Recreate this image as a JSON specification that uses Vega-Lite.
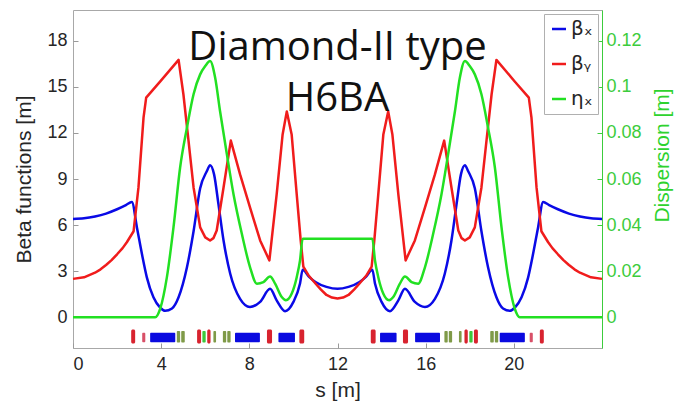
{
  "$schema": "https://vega.github.io/schema/vega-lite/v6.json",
  "width": 529,
  "height": 338,
  "autosize": {"type": "none"},
  "padding": {"left": 73, "top": 10, "right": 77, "bottom": 63},
  "background": "white",
  "config": {
    "font": "Liberation Sans",
    "view": {"stroke": "#a8a8a8", "strokeWidth": 1},
    "axis": {
      "grid": false,
      "domain": false,
      "labelFont": "Liberation Sans",
      "titleFont": "Liberation Sans",
      "labelFontSize": 18,
      "titleFontSize": 21,
      "titleFontWeight": "normal",
      "labelColor": "#262626",
      "titleColor": "#262626",
      "tickColor": "#9a9a9a",
      "tickSize": -5
    },
    "axisX": {"labelPadding": 12, "titlePadding": 6},
    "axisLeft": {"labelPadding": 11, "titlePadding": 12}
  },
  "datasets": {
    "curves": [
      {"s": 0, "k": "βₓ", "v": 6.4}, {"s": 0.5, "k": "βₓ", "v": 6.44}, {"s": 1, "k": "βₓ", "v": 6.56}, {"s": 1.5, "k": "βₓ", "v": 6.75}, {"s": 2, "k": "βₓ", "v": 7.03}, {"s": 2.4, "k": "βₓ", "v": 7.3}, {"s": 2.67, "k": "βₓ", "v": 7.5}, {"s": 2.9, "k": "βₓ", "v": 5.85}, {"s": 3.13, "k": "βₓ", "v": 4.1}, {"s": 3.35, "k": "βₓ", "v": 2.6}, {"s": 3.65, "k": "βₓ", "v": 1.3}, {"s": 3.96, "k": "βₓ", "v": 0.62}, {"s": 4.18, "k": "βₓ", "v": 0.42}, {"s": 4.49, "k": "βₓ", "v": 0.57}, {"s": 4.79, "k": "βₓ", "v": 1.3}, {"s": 5.17, "k": "βₓ", "v": 3.25}, {"s": 5.47, "k": "βₓ", "v": 5.6}, {"s": 5.77, "k": "βₓ", "v": 8.4}, {"s": 6.07, "k": "βₓ", "v": 9.5}, {"s": 6.22, "k": "βₓ", "v": 9.9}, {"s": 6.4, "k": "βₓ", "v": 9.3}, {"s": 6.6, "k": "βₓ", "v": 7.35}, {"s": 6.83, "k": "βₓ", "v": 5.0}, {"s": 7.13, "k": "βₓ", "v": 2.85}, {"s": 7.58, "k": "βₓ", "v": 1.2}, {"s": 8.03, "k": "βₓ", "v": 0.67}, {"s": 8.49, "k": "βₓ", "v": 1.0}, {"s": 8.94, "k": "βₓ", "v": 1.85}, {"s": 9.24, "k": "βₓ", "v": 1.1}, {"s": 9.62, "k": "βₓ", "v": 0.4}, {"s": 10.0, "k": "βₓ", "v": 1.0}, {"s": 10.3, "k": "βₓ", "v": 2.2}, {"s": 10.42, "k": "βₓ", "v": 3.1}, {"s": 10.7, "k": "βₓ", "v": 2.65}, {"s": 11.0, "k": "βₓ", "v": 2.3}, {"s": 11.5, "k": "βₓ", "v": 1.98}, {"s": 12, "k": "βₓ", "v": 1.85}, {"s": 12.5, "k": "βₓ", "v": 1.98}, {"s": 13.0, "k": "βₓ", "v": 2.3}, {"s": 13.3, "k": "βₓ", "v": 2.65}, {"s": 13.58, "k": "βₓ", "v": 3.1}, {"s": 13.7, "k": "βₓ", "v": 2.2}, {"s": 14.0, "k": "βₓ", "v": 1.0}, {"s": 14.38, "k": "βₓ", "v": 0.4}, {"s": 14.76, "k": "βₓ", "v": 1.1}, {"s": 15.06, "k": "βₓ", "v": 1.85}, {"s": 15.51, "k": "βₓ", "v": 1.0}, {"s": 15.97, "k": "βₓ", "v": 0.67}, {"s": 16.42, "k": "βₓ", "v": 1.2}, {"s": 16.87, "k": "βₓ", "v": 2.85}, {"s": 17.17, "k": "βₓ", "v": 5.0}, {"s": 17.4, "k": "βₓ", "v": 7.35}, {"s": 17.6, "k": "βₓ", "v": 9.3}, {"s": 17.78, "k": "βₓ", "v": 9.9}, {"s": 17.93, "k": "βₓ", "v": 9.5}, {"s": 18.23, "k": "βₓ", "v": 8.4}, {"s": 18.53, "k": "βₓ", "v": 5.6}, {"s": 18.83, "k": "βₓ", "v": 3.25}, {"s": 19.21, "k": "βₓ", "v": 1.3}, {"s": 19.51, "k": "βₓ", "v": 0.57}, {"s": 19.82, "k": "βₓ", "v": 0.42}, {"s": 20.04, "k": "βₓ", "v": 0.62}, {"s": 20.35, "k": "βₓ", "v": 1.3}, {"s": 20.65, "k": "βₓ", "v": 2.6}, {"s": 20.87, "k": "βₓ", "v": 4.1}, {"s": 21.1, "k": "βₓ", "v": 5.85}, {"s": 21.33, "k": "βₓ", "v": 7.5}, {"s": 21.6, "k": "βₓ", "v": 7.3}, {"s": 22, "k": "βₓ", "v": 7.03}, {"s": 22.5, "k": "βₓ", "v": 6.75}, {"s": 23, "k": "βₓ", "v": 6.56}, {"s": 23.5, "k": "βₓ", "v": 6.44}, {"s": 24, "k": "βₓ", "v": 6.4},
      {"s": 0, "k": "βᵧ", "v": 2.5}, {"s": 0.5, "k": "βᵧ", "v": 2.6}, {"s": 1, "k": "βᵧ", "v": 2.9}, {"s": 1.25, "k": "βᵧ", "v": 3.12}, {"s": 1.5, "k": "βᵧ", "v": 3.4}, {"s": 1.75, "k": "βᵧ", "v": 3.72}, {"s": 2, "k": "βᵧ", "v": 4.1}, {"s": 2.25, "k": "βᵧ", "v": 4.5}, {"s": 2.45, "k": "βᵧ", "v": 4.9}, {"s": 2.75, "k": "βᵧ", "v": 5.6}, {"s": 2.97, "k": "βᵧ", "v": 8.45}, {"s": 3.2, "k": "βᵧ", "v": 13.0}, {"s": 3.32, "k": "βᵧ", "v": 14.3}, {"s": 3.96, "k": "βᵧ", "v": 15.35}, {"s": 4.79, "k": "βᵧ", "v": 16.75}, {"s": 5.01, "k": "βᵧ", "v": 14.5}, {"s": 5.24, "k": "βᵧ", "v": 11.5}, {"s": 5.47, "k": "βᵧ", "v": 8.45}, {"s": 5.77, "k": "βᵧ", "v": 5.85}, {"s": 6.0, "k": "βᵧ", "v": 5.2}, {"s": 6.22, "k": "βᵧ", "v": 5.0}, {"s": 6.37, "k": "βᵧ", "v": 5.15}, {"s": 6.52, "k": "βᵧ", "v": 5.65}, {"s": 6.83, "k": "βᵧ", "v": 8.45}, {"s": 7.16, "k": "βᵧ", "v": 11.5}, {"s": 7.58, "k": "βᵧ", "v": 9.3}, {"s": 8.03, "k": "βᵧ", "v": 7.15}, {"s": 8.49, "k": "βᵧ", "v": 5.0}, {"s": 8.91, "k": "βᵧ", "v": 3.7}, {"s": 9.24, "k": "βᵧ", "v": 8.0}, {"s": 9.51, "k": "βᵧ", "v": 11.9}, {"s": 9.7, "k": "βᵧ", "v": 13.4}, {"s": 9.92, "k": "βᵧ", "v": 11.9}, {"s": 10.15, "k": "βᵧ", "v": 8.0}, {"s": 10.33, "k": "βᵧ", "v": 5.0}, {"s": 10.45, "k": "βᵧ", "v": 3.3}, {"s": 10.7, "k": "βᵧ", "v": 2.7}, {"s": 11.0, "k": "βᵧ", "v": 2.2}, {"s": 11.25, "k": "βᵧ", "v": 1.8}, {"s": 11.5, "k": "βᵧ", "v": 1.45}, {"s": 11.75, "k": "βᵧ", "v": 1.28}, {"s": 12, "k": "βᵧ", "v": 1.22}, {"s": 12.25, "k": "βᵧ", "v": 1.28}, {"s": 12.5, "k": "βᵧ", "v": 1.45}, {"s": 12.75, "k": "βᵧ", "v": 1.8}, {"s": 13.0, "k": "βᵧ", "v": 2.2}, {"s": 13.3, "k": "βᵧ", "v": 2.7}, {"s": 13.55, "k": "βᵧ", "v": 3.3}, {"s": 13.67, "k": "βᵧ", "v": 5.0}, {"s": 13.85, "k": "βᵧ", "v": 8.0}, {"s": 14.08, "k": "βᵧ", "v": 11.9}, {"s": 14.3, "k": "βᵧ", "v": 13.4}, {"s": 14.49, "k": "βᵧ", "v": 11.9}, {"s": 14.76, "k": "βᵧ", "v": 8.0}, {"s": 15.09, "k": "βᵧ", "v": 3.7}, {"s": 15.51, "k": "βᵧ", "v": 5.0}, {"s": 15.97, "k": "βᵧ", "v": 7.15}, {"s": 16.42, "k": "βᵧ", "v": 9.3}, {"s": 16.84, "k": "βᵧ", "v": 11.5}, {"s": 17.17, "k": "βᵧ", "v": 8.45}, {"s": 17.48, "k": "βᵧ", "v": 5.65}, {"s": 17.63, "k": "βᵧ", "v": 5.15}, {"s": 17.78, "k": "βᵧ", "v": 5.0}, {"s": 18.0, "k": "βᵧ", "v": 5.2}, {"s": 18.23, "k": "βᵧ", "v": 5.85}, {"s": 18.53, "k": "βᵧ", "v": 8.45}, {"s": 18.76, "k": "βᵧ", "v": 11.5}, {"s": 18.99, "k": "βᵧ", "v": 14.5}, {"s": 19.21, "k": "βᵧ", "v": 16.75}, {"s": 20.04, "k": "βᵧ", "v": 15.35}, {"s": 20.68, "k": "βᵧ", "v": 14.3}, {"s": 20.8, "k": "βᵧ", "v": 13.0}, {"s": 21.03, "k": "βᵧ", "v": 8.45}, {"s": 21.25, "k": "βᵧ", "v": 5.6}, {"s": 21.55, "k": "βᵧ", "v": 4.9}, {"s": 21.75, "k": "βᵧ", "v": 4.5}, {"s": 22, "k": "βᵧ", "v": 4.1}, {"s": 22.25, "k": "βᵧ", "v": 3.72}, {"s": 22.5, "k": "βᵧ", "v": 3.4}, {"s": 22.75, "k": "βᵧ", "v": 3.12}, {"s": 23, "k": "βᵧ", "v": 2.9}, {"s": 23.5, "k": "βᵧ", "v": 2.6}, {"s": 24, "k": "βᵧ", "v": 2.5},
      {"s": 0, "k": "ηₓ", "v": 0}, {"s": 3.73, "k": "ηₓ", "v": 0}, {"s": 3.96, "k": "ηₓ", "v": 0.0038}, {"s": 4.26, "k": "ηₓ", "v": 0.0174}, {"s": 4.56, "k": "ηₓ", "v": 0.0391}, {"s": 4.86, "k": "ηₓ", "v": 0.065}, {"s": 5.17, "k": "ηₓ", "v": 0.0823}, {"s": 5.47, "k": "ηₓ", "v": 0.0968}, {"s": 5.77, "k": "ηₓ", "v": 0.1054}, {"s": 6.0, "k": "ηₓ", "v": 0.109}, {"s": 6.22, "k": "ηₓ", "v": 0.1112}, {"s": 6.45, "k": "ηₓ", "v": 0.1039}, {"s": 6.67, "k": "ηₓ", "v": 0.0895}, {"s": 6.98, "k": "ηₓ", "v": 0.0708}, {"s": 7.28, "k": "ηₓ", "v": 0.0535}, {"s": 7.66, "k": "ηₓ", "v": 0.0362}, {"s": 8.03, "k": "ηₓ", "v": 0.0218}, {"s": 8.34, "k": "ηₓ", "v": 0.0146}, {"s": 8.64, "k": "ηₓ", "v": 0.0153}, {"s": 8.94, "k": "ηₓ", "v": 0.0177}, {"s": 9.17, "k": "ηₓ", "v": 0.0146}, {"s": 9.47, "k": "ηₓ", "v": 0.0088}, {"s": 9.66, "k": "ηₓ", "v": 0.0074}, {"s": 9.92, "k": "ηₓ", "v": 0.0102}, {"s": 10.15, "k": "ηₓ", "v": 0.0174}, {"s": 10.3, "k": "ηₓ", "v": 0.0247}, {"s": 10.42, "k": "ηₓ", "v": 0.0341}, {"s": 12, "k": "ηₓ", "v": 0.0341}, {"s": 13.58, "k": "ηₓ", "v": 0.0341}, {"s": 13.7, "k": "ηₓ", "v": 0.0247}, {"s": 13.85, "k": "ηₓ", "v": 0.0174}, {"s": 14.08, "k": "ηₓ", "v": 0.0102}, {"s": 14.34, "k": "ηₓ", "v": 0.0074}, {"s": 14.53, "k": "ηₓ", "v": 0.0088}, {"s": 14.83, "k": "ηₓ", "v": 0.0146}, {"s": 15.06, "k": "ηₓ", "v": 0.0177}, {"s": 15.36, "k": "ηₓ", "v": 0.0153}, {"s": 15.66, "k": "ηₓ", "v": 0.0146}, {"s": 15.97, "k": "ηₓ", "v": 0.0218}, {"s": 16.34, "k": "ηₓ", "v": 0.0362}, {"s": 16.72, "k": "ηₓ", "v": 0.0535}, {"s": 17.02, "k": "ηₓ", "v": 0.0708}, {"s": 17.33, "k": "ηₓ", "v": 0.0895}, {"s": 17.55, "k": "ηₓ", "v": 0.1039}, {"s": 17.78, "k": "ηₓ", "v": 0.1112}, {"s": 18.0, "k": "ηₓ", "v": 0.109}, {"s": 18.23, "k": "ηₓ", "v": 0.1054}, {"s": 18.53, "k": "ηₓ", "v": 0.0968}, {"s": 18.83, "k": "ηₓ", "v": 0.0823}, {"s": 19.14, "k": "ηₓ", "v": 0.065}, {"s": 19.44, "k": "ηₓ", "v": 0.0391}, {"s": 19.74, "k": "ηₓ", "v": 0.0174}, {"s": 20.04, "k": "ηₓ", "v": 0.0038}, {"s": 20.27, "k": "ηₓ", "v": 0}, {"s": 24, "k": "ηₓ", "v": 0}
    ],
    "magnets": [
      {"s0": 2.64, "s1": 2.82, "kind": "red"}, {"s0": 3.14, "s1": 3.28, "kind": "small"}, {"s0": 3.5, "s1": 4.64, "kind": "blue"}, {"s0": 4.71, "s1": 4.86, "kind": "olive"}, {"s0": 4.91, "s1": 5.07, "kind": "olive"}, {"s0": 5.63, "s1": 5.81, "kind": "red"}, {"s0": 5.87, "s1": 6.02, "kind": "green"}, {"s0": 6.09, "s1": 6.24, "kind": "red"}, {"s0": 6.37, "s1": 6.49, "kind": "olive"}, {"s0": 6.8, "s1": 6.95, "kind": "olive"}, {"s0": 7.0, "s1": 7.15, "kind": "olive"}, {"s0": 7.35, "s1": 8.48, "kind": "blue"}, {"s0": 8.8, "s1": 9.03, "kind": "red"}, {"s0": 9.32, "s1": 10.07, "kind": "blue"}, {"s0": 10.27, "s1": 10.49, "kind": "red"},
      {"s0": 13.51, "s1": 13.73, "kind": "red"}, {"s0": 13.93, "s1": 14.68, "kind": "blue"}, {"s0": 14.97, "s1": 15.2, "kind": "red"}, {"s0": 15.52, "s1": 16.65, "kind": "blue"}, {"s0": 16.85, "s1": 17.0, "kind": "olive"}, {"s0": 17.05, "s1": 17.2, "kind": "olive"}, {"s0": 17.51, "s1": 17.63, "kind": "olive"}, {"s0": 17.76, "s1": 17.91, "kind": "red"}, {"s0": 17.98, "s1": 18.13, "kind": "green"}, {"s0": 18.19, "s1": 18.37, "kind": "red"}, {"s0": 18.93, "s1": 19.09, "kind": "olive"}, {"s0": 19.14, "s1": 19.29, "kind": "olive"}, {"s0": 19.36, "s1": 20.5, "kind": "blue"}, {"s0": 20.72, "s1": 20.86, "kind": "small"}, {"s0": 21.18, "s1": 21.36, "kind": "red"}
    ]
  },
  "layer": [
    {
      "layer": [
        {
          "data": {"name": "magnets"},
          "transform": [{"filter": "datum.kind === 'red'"}],
          "mark": {"type": "rect", "cornerRadius": 1.5},
          "encoding": {
            "x": {"field": "s0", "type": "quantitative", "scale": {"domain": [0, 24], "nice": false}, "title": "s [m]"},
            "x2": {"field": "s1"},
            "y": {"datum": -0.8, "type": "quantitative", "scale": {"domain": [-2, 20], "nice": false}, "title": "Beta functions [m]"},
            "y2": {"datum": -1.7},
            "fill": {"field": "kind", "type": "nominal", "scale": {"domain": ["red", "blue", "green", "olive", "small"], "range": ["#d8232f", "#0a0ae0", "#3cc83c", "#7f9a48", "#d85068"]}, "legend": null}
          }
        },
        {
          "data": {"name": "magnets"},
          "transform": [{"filter": "datum.kind === 'blue' || datum.kind === 'small'"}],
          "mark": {"type": "rect", "cornerRadius": 1},
          "encoding": {
            "x": {"field": "s0", "type": "quantitative", "scale": {"domain": [0, 24], "nice": false}, "title": "s [m]"},
            "x2": {"field": "s1"},
            "y": {"datum": -1.0, "type": "quantitative", "scale": {"domain": [-2, 20], "nice": false}, "title": "Beta functions [m]"},
            "y2": {"datum": -1.62},
            "fill": {"field": "kind", "type": "nominal", "legend": null}
          }
        },
        {
          "data": {"name": "magnets"},
          "transform": [{"filter": "datum.kind === 'green' || datum.kind === 'olive'"}],
          "mark": {"type": "rect", "cornerRadius": 1},
          "encoding": {
            "x": {"field": "s0", "type": "quantitative", "scale": {"domain": [0, 24], "nice": false}, "title": "s [m]"},
            "x2": {"field": "s1"},
            "y": {"datum": -0.9, "type": "quantitative", "scale": {"domain": [-2, 20], "nice": false}, "title": "Beta functions [m]"},
            "y2": {"datum": -1.65},
            "fill": {"field": "kind", "type": "nominal", "legend": null}
          }
        },
        {
          "data": {"name": "curves"},
          "transform": [{"filter": "datum.k === 'βₓ'"}],
          "mark": {"type": "line", "strokeWidth": 2.5, "interpolate": "monotone"},
          "encoding": {
            "x": {"field": "s", "type": "quantitative", "scale": {"domain": [0, 24], "nice": false}, "title": "s [m]", "axis": {"values": [0, 4, 8, 12, 16, 20]}},
            "y": {"field": "v", "type": "quantitative", "scale": {"domain": [-2, 20], "nice": false}, "title": "Beta functions [m]", "axis": {"values": [0, 3, 6, 9, 12, 15, 18]}},
            "color": {
              "field": "k", "type": "nominal",
              "scale": {"domain": ["βₓ", "βᵧ", "ηₓ"], "range": ["#0a0ae6", "#f01c1c", "#22e022"]},
              "legend": {"orient": "top-right", "offset": 4, "title": null, "symbolType": "stroke", "symbolStrokeWidth": 2.5, "symbolSize": 196, "labelFont": "DejaVu Sans", "labelFontSize": 20, "labelColor": "#262626", "strokeColor": "#b0b0b0", "fillColor": "white", "padding": 5, "rowPadding": 15, "labelOffset": 2}
            }
          }
        },
        {
          "data": {"name": "curves"},
          "transform": [{"filter": "datum.k === 'βᵧ'"}],
          "mark": {"type": "line", "strokeWidth": 2.5, "interpolate": "linear", "strokeJoin": "round"},
          "encoding": {
            "x": {"field": "s", "type": "quantitative", "scale": {"domain": [0, 24], "nice": false}, "title": "s [m]"},
            "y": {"field": "v", "type": "quantitative", "scale": {"domain": [-2, 20], "nice": false}, "title": "Beta functions [m]"},
            "color": {"field": "k", "type": "nominal"}
          }
        },
        {
          "data": {"values": [{}]},
          "mark": {"type": "text", "font": "Open Sans", "fontSize": 40, "color": "#111111", "align": "center", "baseline": "alphabetic"},
          "encoding": {
            "x": {"datum": 12, "type": "quantitative", "scale": {"domain": [0, 24], "nice": false}, "title": "s [m]"},
            "y": {"datum": 16.74, "type": "quantitative", "scale": {"domain": [-2, 20], "nice": false}, "title": "Beta functions [m]"},
            "text": {"value": "Diamond-II type"}
          }
        },
        {
          "data": {"values": [{}]},
          "mark": {"type": "text", "font": "Open Sans", "fontSize": 40, "color": "#111111", "align": "center", "baseline": "alphabetic"},
          "encoding": {
            "x": {"datum": 12, "type": "quantitative", "scale": {"domain": [0, 24], "nice": false}, "title": "s [m]"},
            "y": {"datum": 13.43, "type": "quantitative", "scale": {"domain": [-2, 20], "nice": false}, "title": "Beta functions [m]"},
            "text": {"value": "H6BA"}
          }
        }
      ]
    },
    {
      "data": {"name": "curves"},
      "transform": [{"filter": "datum.k === 'ηₓ'"}],
      "mark": {"type": "line", "strokeWidth": 2.5, "interpolate": "monotone"},
      "encoding": {
        "x": {"field": "s", "type": "quantitative", "scale": {"domain": [0, 24], "nice": false}, "title": "s [m]"},
        "y": {
          "field": "v", "type": "quantitative",
          "scale": {"domain": [-0.013333, 0.133333], "nice": false},
          "title": "Dispersion [m]",
          "axis": {"orient": "right", "values": [0, 0.02, 0.04, 0.06, 0.08, 0.1, 0.12], "format": "~g", "labelColor": "#3ccc3c", "titleColor": "#2ed22e", "domain": true, "domainColor": "#3ccc3c", "tickColor": "#3ccc3c", "labelPadding": 9, "titlePadding": 10, "titleAngle": 270, "titleBaseline": "top", "titleY": 145}
        },
        "color": {"field": "k", "type": "nominal"}
      }
    }
  ],
  "resolve": {"scale": {"y": "independent"}}
}
